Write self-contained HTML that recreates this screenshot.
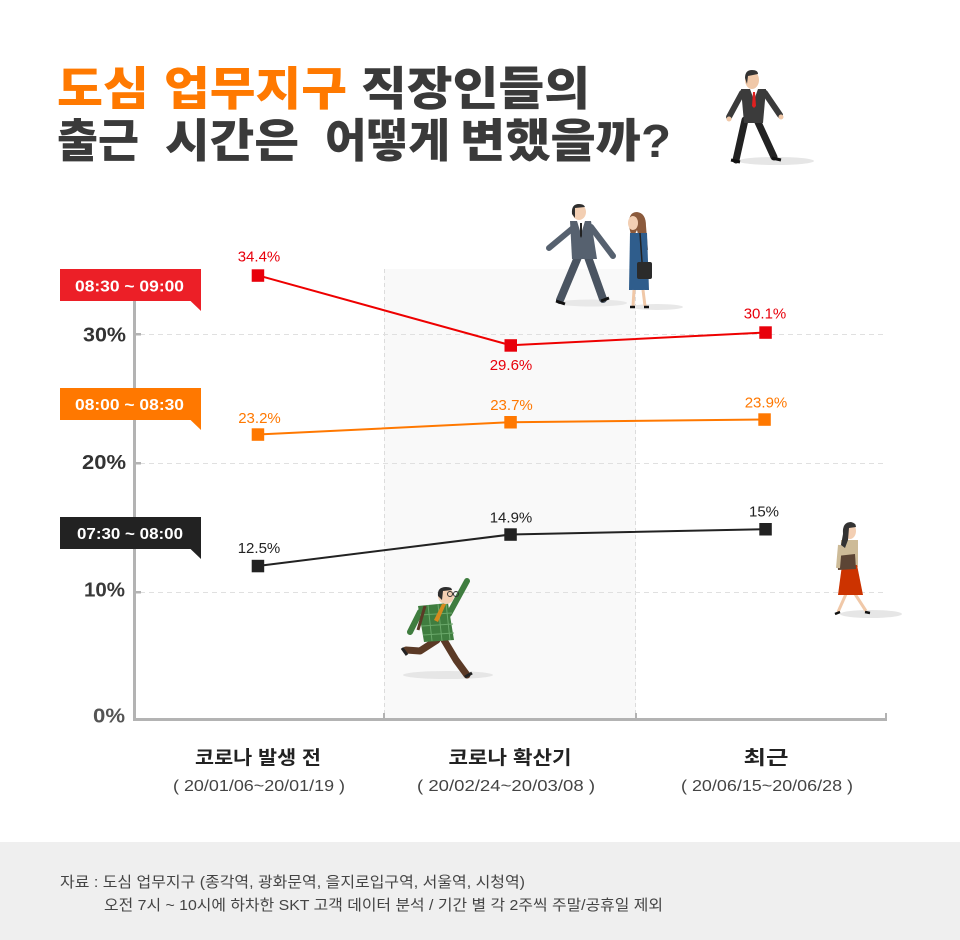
<!DOCTYPE html>
<html><head><meta charset="utf-8"><style>
html,body{margin:0;padding:0;background:#fff;}
svg{display:block;}
text{font-family:"Liberation Sans","Noto Sans CJK KR",sans-serif;}
</style></head><body>
<svg width="960" height="940" viewBox="0 0 960 940" xmlns="http://www.w3.org/2000/svg">
<rect x="0" y="0" width="960" height="940" fill="#fff"/>

<!-- Title -->
<g font-size="46" font-weight="900">
<text x="57" y="105" fill="#ff7900" textLength="92" lengthAdjust="spacingAndGlyphs">도심</text>
<text x="164" y="105" fill="#ff7900" textLength="183" lengthAdjust="spacingAndGlyphs">업무지구</text>
<text x="361" y="105" fill="#3a3a3a" textLength="229" lengthAdjust="spacingAndGlyphs">직장인들의</text>
<text x="57" y="157" fill="#3a3a3a" textLength="82" lengthAdjust="spacingAndGlyphs">출근</text>
<text x="165" y="157" fill="#3a3a3a" textLength="134" lengthAdjust="spacingAndGlyphs">시간은</text>
<text x="325" y="157" fill="#3a3a3a" textLength="125" lengthAdjust="spacingAndGlyphs">어떻게</text>
<text x="460" y="157" fill="#3a3a3a" textLength="211" lengthAdjust="spacingAndGlyphs">변했을까?</text>
</g>

<!-- Top walking man -->
<g>
<ellipse cx="776" cy="161" rx="38" ry="4" fill="#e6e6e6"/>
<path d="M745 120 L736 160" stroke="#222" stroke-width="7" stroke-linecap="round"/>
<path d="M757 120 L774 157" stroke="#222" stroke-width="7" stroke-linecap="round"/>
<path d="M731 160 L740 162" stroke="#111" stroke-width="3"/>
<path d="M772 158 L781 160" stroke="#111" stroke-width="3"/>
<path d="M742 93 L729 117" stroke="#3b3b3b" stroke-width="6" stroke-linecap="round"/>
<path d="M765 93 L780 115" stroke="#3b3b3b" stroke-width="6" stroke-linecap="round"/>
<circle cx="729" cy="119" r="2.5" fill="#f0c8a8"/>
<circle cx="781" cy="117" r="2.5" fill="#f0c8a8"/>
<path d="M741 89 L766 89 L763 123 L744 123 Z" fill="#3b3b3b"/>
<path d="M750 89 L758 89 L754 100 Z" fill="#fff"/>
<path d="M753 92 L755 92 L756 106 L754 108 L752 106 Z" fill="#e02020"/>
<ellipse cx="752" cy="80" rx="7" ry="9" fill="#f0c8a8"/>
<path d="M745 78 Q745 70 752 70 Q758 70 758 74 L748 76 L747 84 Z" fill="#333"/>
</g>

<!-- Chart band -->
<rect x="384" y="269" width="252" height="449" fill="#f9f9f9"/>
<line x1="384.5" y1="269" x2="384.5" y2="718" stroke="#dcdcdc" stroke-width="1" stroke-dasharray="4,3"/>
<line x1="635.5" y1="269" x2="635.5" y2="718" stroke="#dcdcdc" stroke-width="1" stroke-dasharray="4,3"/>

<!-- Two people -->
<g>
<ellipse cx="592" cy="303" rx="35" ry="3.5" fill="#e8e8e8"/>
<ellipse cx="657" cy="307" rx="26" ry="3" fill="#e8e8e8"/>
<path d="M578 257 L560 300" stroke="#4a5461" stroke-width="8" stroke-linecap="round"/>
<path d="M588 257 L603 299" stroke="#4a5461" stroke-width="8" stroke-linecap="round"/>
<path d="M556 301 L565 304" stroke="#111" stroke-width="3"/>
<path d="M601 301 L609 298" stroke="#111" stroke-width="3"/>
<path d="M573 228 L549 248" stroke="#56616f" stroke-width="6" stroke-linecap="round"/>
<path d="M591 227 L613 256" stroke="#56616f" stroke-width="6" stroke-linecap="round"/>
<path d="M570 221 L591 221 L597 259 L572 259 Z" fill="#56616f"/>
<path d="M577 221 L585 221 L581 234 Z" fill="#fff"/>
<path d="M580 223 L582 223 L582 236 L581 238 L580 236 Z" fill="#222"/>
<ellipse cx="579" cy="212" rx="7" ry="8" fill="#f3cfb3"/>
<path d="M572 214 Q571 204 579 204 Q584 204 585 207 L575 208 L575 218 Z" fill="#2e2e2e"/>
<path d="M629 226 Q628 212 637 212 Q646 213 646 226 L648 250 L641 248 L637 230 L632 240 Z" fill="#8b5a3c"/>
<ellipse cx="633" cy="223" rx="5" ry="7" fill="#f3cfb3"/>
<path d="M630 233 L647 233 L649 290 L629 290 Z" fill="#2f5d8c"/>
<path d="M640 233 L642 262" stroke="#222" stroke-width="1.5"/>
<rect x="637" y="262" width="15" height="17" rx="2" fill="#2b2b2b"/>
<path d="M634 290 L633 306" stroke="#f0c8a8" stroke-width="3"/>
<path d="M643 290 L645 306" stroke="#f0c8a8" stroke-width="3"/>
<path d="M630 307 L635 307" stroke="#111" stroke-width="2.5"/>
<path d="M644 307 L649 307" stroke="#111" stroke-width="2.5"/>
</g>

<!-- Grid lines -->
<g stroke="#e0e0e0" stroke-width="1" stroke-dasharray="5,4">
<line x1="140" y1="334.5" x2="886" y2="334.5"/>
<line x1="140" y1="463.5" x2="886" y2="463.5"/>
<line x1="140" y1="592.5" x2="886" y2="592.5"/>
</g>

<!-- Axes -->
<rect x="133" y="290" width="3" height="431" fill="#b3b3b3"/>
<rect x="133" y="718" width="754" height="3" fill="#b3b3b3"/>
<rect x="136" y="333" width="5" height="2.5" fill="#b3b3b3"/>
<rect x="136" y="462" width="5" height="2.5" fill="#b3b3b3"/>
<rect x="136" y="591" width="5" height="2.5" fill="#b3b3b3"/>
<rect x="383" y="713" width="2" height="6" fill="#b3b3b3"/>
<rect x="635" y="713" width="2" height="6" fill="#b3b3b3"/>
<rect x="885" y="713" width="2" height="6" fill="#b3b3b3"/>

<!-- Y labels -->
<g font-size="20" font-weight="bold" text-anchor="end">
<text x="126" y="341.5" fill="#333" textLength="43" lengthAdjust="spacingAndGlyphs">30%</text>
<text x="126" y="469" fill="#333" textLength="44" lengthAdjust="spacingAndGlyphs">20%</text>
<text x="125" y="596.5" fill="#3a3a3a" textLength="41" lengthAdjust="spacingAndGlyphs">10%</text>
<text x="125" y="722.5" fill="#555" textLength="32" lengthAdjust="spacingAndGlyphs">0%</text>
</g>

<!-- Runner -->
<g>
<ellipse cx="448" cy="675" rx="45" ry="4" fill="#e6e6e6"/>
<path d="M437 640 L420 651 L406 650" stroke="#5b3a26" stroke-width="7" fill="none" stroke-linecap="round" stroke-linejoin="round"/>
<path d="M444 640 L456 660 L467 675" stroke="#5b3a26" stroke-width="7" fill="none" stroke-linecap="round" stroke-linejoin="round"/>
<path d="M402 648 L407 655" stroke="#222" stroke-width="3"/>
<path d="M465 677 L472 673" stroke="#222" stroke-width="3"/>
<path d="M420 612 L410 632" stroke="#3f7d3f" stroke-width="6" stroke-linecap="round"/>
<path d="M449 614 L467 581" stroke="#3f7d3f" stroke-width="6" stroke-linecap="round"/>
<path d="M418 606 L448 603 L454 640 L424 642 Z" fill="#3f7d3f"/>
<g stroke="#6aa86a" stroke-width="1">
<line x1="420" y1="615" x2="452" y2="613"/><line x1="422" y1="626" x2="453" y2="624"/><line x1="423" y1="635" x2="454" y2="633"/>
<line x1="428" y1="605" x2="432" y2="641"/><line x1="438" y1="604" x2="442" y2="641"/><line x1="446" y1="603" x2="450" y2="640"/>
</g>
<path d="M425 606 L418 630" stroke="#5b3a26" stroke-width="3"/>
<path d="M442 604 L446 604 L438 622 L434 620 Z" fill="#d58a1e"/>
<circle cx="446" cy="596" r="8" fill="#f3cfb3"/>
<path d="M438 596 Q437 587 446 587 Q452 587 452 590 L443 591 L442 600 Z" fill="#2e2e2e"/>
<circle cx="450" cy="594" r="2.5" fill="none" stroke="#333" stroke-width="1"/>
<circle cx="456" cy="594" r="2.5" fill="none" stroke="#333" stroke-width="1"/>
</g>

<!-- Right woman -->
<g>
<ellipse cx="871" cy="614" rx="31" ry="4" fill="#e6e6e6"/>
<path d="M846 594 L838 612" stroke="#f0c8a8" stroke-width="3"/>
<path d="M855 594 L866 611" stroke="#f0c8a8" stroke-width="3"/>
<path d="M835 614 L840 612" stroke="#111" stroke-width="2.5"/>
<path d="M865 612 L870 613" stroke="#111" stroke-width="2.5"/>
<path d="M841 540 L858 540 L858 567 L840 567 Z" fill="#cdbb98"/>
<path d="M842 565 L857 565 L863 595 L838 595 Z" fill="#cc3300"/>
<path d="M837 556 L855 554 L856 569 L838 570 Z" fill="#5c4535"/>
<path d="M840 545 L838 568" stroke="#cdbb98" stroke-width="4"/>
<ellipse cx="850" cy="531" rx="6" ry="8" fill="#f3cfb3"/>
<path d="M843 534 Q842 522 851 522 Q856 523 856 527 L849 528 L848 540 L845 548 L841 545 Z" fill="#333"/>
</g>

<!-- Series lines -->
<polyline points="257.7,275.3 510.7,345.3 765.5,332.5" fill="none" stroke="#ee0000" stroke-width="2"/>
<polyline points="257.7,434.5 510.5,422.2 764.5,419.5" fill="none" stroke="#ff7800" stroke-width="2"/>
<polyline points="257.7,566 510.5,534.5 765.5,529.2" fill="none" stroke="#222" stroke-width="2"/>

<g fill="#e8000b">
<rect x="251.7" y="269.3" width="12.5" height="12.5"/>
<rect x="504.5" y="339.2" width="12.5" height="12.5"/>
<rect x="759.3" y="326.3" width="12.5" height="12.5"/>
</g>
<g fill="#ff7800">
<rect x="251.7" y="428.3" width="12.5" height="12.5"/>
<rect x="504.3" y="416" width="12.5" height="12.5"/>
<rect x="758.3" y="413.3" width="12.5" height="12.5"/>
</g>
<g fill="#222">
<rect x="251.7" y="559.8" width="12.5" height="12.5"/>
<rect x="504.3" y="528.3" width="12.5" height="12.5"/>
<rect x="759.3" y="523" width="12.5" height="12.5"/>
</g>

<!-- Data labels -->
<g font-size="15" text-anchor="middle">
<text x="259" y="261.5" fill="#e8000b">34.4%</text>
<text x="511" y="370" fill="#e8000b">29.6%</text>
<text x="765" y="318.5" fill="#e8000b">30.1%</text>
<text x="259.5" y="423" fill="#ff7800">23.2%</text>
<text x="511.5" y="410" fill="#ff7800">23.7%</text>
<text x="766" y="407.5" fill="#ff7800">23.9%</text>
<text x="259" y="553" fill="#222">12.5%</text>
<text x="511" y="522.5" fill="#222">14.9%</text>
<text x="764" y="516.5" fill="#222">15%</text>
</g>

<!-- Legend tags -->
<rect x="60" y="269" width="141" height="32" fill="#ec1f27"/>
<path d="M190 300.5 L201 300.5 L201 311 Z" fill="#ec1f27"/>
<rect x="60" y="388" width="141" height="32" fill="#ff7800"/>
<path d="M190 419.5 L201 419.5 L201 430 Z" fill="#ff7800"/>
<rect x="60" y="517" width="141" height="32" fill="#222"/>
<path d="M190 548.5 L201 548.5 L201 559 Z" fill="#222"/>
<g font-size="16" font-weight="bold" fill="#fff">
<text x="75" y="291.5" textLength="109" lengthAdjust="spacingAndGlyphs">08:30 ~ 09:00</text>
<text x="75" y="410" textLength="109" lengthAdjust="spacingAndGlyphs">08:00 ~ 08:30</text>
<text x="77" y="539" textLength="106" lengthAdjust="spacingAndGlyphs">07:30 ~ 08:00</text>
</g>

<!-- X labels -->
<g font-size="19" font-weight="bold" fill="#222" text-anchor="middle">
<text x="258" y="764" textLength="126" lengthAdjust="spacingAndGlyphs">코로나 발생 전</text>
<text x="510" y="764" textLength="123" lengthAdjust="spacingAndGlyphs">코로나 확산기</text>
<text x="766" y="764" textLength="45" lengthAdjust="spacingAndGlyphs">최근</text>
</g>
<g font-size="16" fill="#444" text-anchor="middle">
<text x="259" y="791" textLength="172" lengthAdjust="spacingAndGlyphs">( 20/01/06~20/01/19 )</text>
<text x="506" y="791" textLength="178" lengthAdjust="spacingAndGlyphs">( 20/02/24~20/03/08 )</text>
<text x="767" y="791" textLength="172" lengthAdjust="spacingAndGlyphs">( 20/06/15~20/06/28 )</text>
</g>

<!-- Footer -->
<rect x="0" y="842" width="960" height="98" fill="#efefef"/>
<g font-size="15" fill="#444">
<text x="60" y="887" textLength="465" lengthAdjust="spacingAndGlyphs">자료 : 도심 업무지구 (종각역, 광화문역, 을지로입구역, 서울역, 시청역)</text>
<text x="104" y="910" textLength="559" lengthAdjust="spacingAndGlyphs">오전 7시 ~ 10시에 하차한 SKT 고객 데이터 분석 / 기간 별 각 2주씩 주말/공휴일 제외</text>
</g>
</svg>
</body></html>
